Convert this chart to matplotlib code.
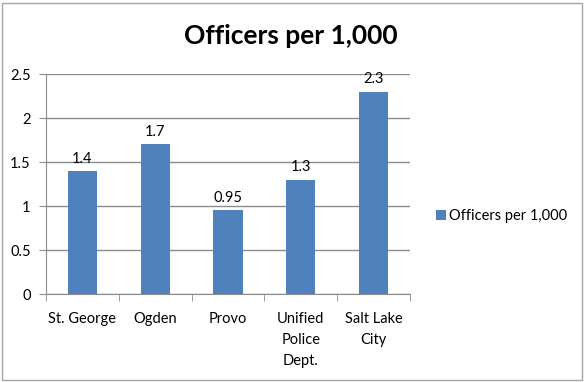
import numpy as np
import matplotlib.pyplot as plt
from matplotlib.patches import Rectangle

# Dados
cidades = ["St. George", "Ogden", "Provo", "Unified\nPolice\nDept.", "Salt Lake\nCity"]
oficiais = [1.4, 1.7, 0.95, 1.3, 2.3]
rotulos = ["1.4", "1.7", "0.95", "1.3", "2.3"]
yticks = [0, 0.5, 1, 1.5, 2, 2.5]
ytick_labels = ["0", "0.5", "1", "1.5", "2", "2.5"]

plt.rcParams['font.family'] = ['Lato', 'DejaVu Sans']

fig = plt.figure(figsize=(5.85, 3.82), dpi=100)
ax = fig.add_axes([46/585, 1-294/382, (410-46)/585, (294-74)/382])

x = np.arange(len(cidades))
barras = ax.bar(x, oficiais, width=0.4, color='#4F81BD', zorder=3,
                label="Officers per 1,000")

for xi, v, s in zip(x, oficiais, rotulos):
    ax.text(xi, v + 0.06, s, ha='center', va='bottom', fontsize=10.5)

ax.set_xlim(-0.5, len(cidades) - 0.5)
ax.set_ylim(0, 2.5)
ax.set_yticks(yticks)
ax.set_yticklabels(ytick_labels, fontsize=10.5)
ax.yaxis.grid(True, color='#8c8c8c', linewidth=1, zorder=0)

# rótulos das categorias e ticks nas fronteiras
ax.set_xticks(x)
ax.set_xticklabels(cidades, fontsize=10.5, linespacing=1.65, va='top')
ax.tick_params(axis='x', which='major', length=0, pad=13)
ax.set_xticks(np.arange(len(cidades) + 1) - 0.5, minor=True)
ax.tick_params(axis='x', which='minor', length=5, color='#8c8c8c', direction='out')
ax.tick_params(axis='y', length=5, color='#8c8c8c', direction='out', pad=6)

for s in ['top', 'right']:
    ax.spines[s].set_visible(False)
for s in ['left', 'bottom']:
    ax.spines[s].set_color('#8c8c8c')

fig.text(291/585, 1-36/382, "Officers per 1,000", ha='center', va='center',
         fontsize=19, fontweight='bold')

fig.legend(handles=[barras], loc='center left', bbox_to_anchor=(430/585, 1-216/382),
           frameon=False, fontsize=10.5, handlelength=0.7, handleheight=0.7,
           handletextpad=0.2, borderaxespad=0)

fig.add_artist(Rectangle((2/585, 2/382), 580/585, 377/382, transform=fig.transFigure,
                         fill=False, edgecolor='#a6a6a6', linewidth=1))

plt.savefig("out.png", dpi=100)
